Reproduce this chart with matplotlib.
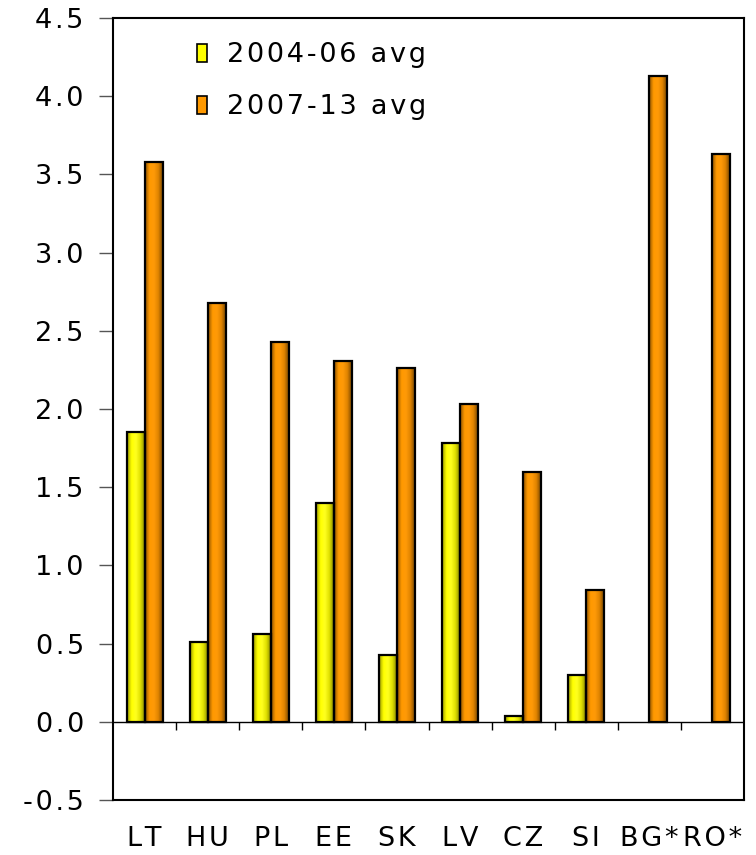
import numpy as np
import matplotlib
matplotlib.use("Agg")
import matplotlib.pyplot as plt
from matplotlib.colors import LinearSegmentedColormap
from matplotlib.patches import Patch

countries = ["LT", "HU", "PL", "EE", "SK", "LV", "CZ", "SI", "BG*", "RO*"]
avg_2004_06 = [1.85, 0.51, 0.56, 1.40, 0.43, 1.78, 0.04, 0.30, np.nan, np.nan]
avg_2007_13 = [3.58, 2.68, 2.43, 2.31, 2.26, 2.03, 1.60, 0.84, 4.13, 3.63]
series_labels = ["2004-06 avg", "2007-13 avg"]
y_ticks = [-0.5, 0.0, 0.5, 1.0, 1.5, 2.0, 2.5, 3.0, 3.5, 4.0, 4.5]

plt.rcParams["font.family"] = ["DejaVu Sans"]
FS = 19.5


def spaced(s):
    # slightly wider tracking using hair spaces between glyphs
    return "\u200a".join(s)


fig = plt.figure(figsize=(7.56, 8.55), dpi=100)
ax = fig.add_axes([113 / 756, 1 - 800 / 855, (744 - 113) / 756, (800 - 18) / 855])

n = len(countries)
x = np.arange(n)
bw = 0.285

yellow_cmap = LinearSegmentedColormap.from_list(
    "yel", ["#9a9a00", "#ffff00", "#ffff20", "#e0e000", "#8a8a00"])
orange_cmap = LinearSegmentedColormap.from_list(
    "org", ["#8c5200", "#ff9900", "#ff9a08", "#e08400", "#7a4800"])
grad = np.linspace(0, 1, 64).reshape(1, -1)


def shaded_bars(xpos, vals, cmap):
    bars = ax.bar(xpos, vals, width=bw, facecolor="none", edgecolor="black",
                  linewidth=1.6, zorder=3)
    for b, v in zip(bars, vals):
        if np.isnan(v):
            continue
        x0, w = b.get_x(), b.get_width()
        im = ax.imshow(grad, cmap=cmap, aspect="auto",
                       extent=[x0, x0 + w, 0, v], zorder=2,
                       interpolation="bilinear")
        im.set_clip_path(b)
    return bars


shaded_bars(x - bw / 2, avg_2004_06, yellow_cmap)
shaded_bars(x + bw / 2, avg_2007_13, orange_cmap)

ax.set_xlim(-0.5, n - 0.5)
ax.set_ylim(-0.5, 4.5)
ax.set_aspect("auto")

# zero line with category separators hanging below it
ax.axhline(0, color="black", linewidth=1.0, zorder=1)
ax.vlines(np.arange(n - 1) + 0.5, -0.05, 0, color="black", linewidth=1.0, zorder=1)

ax.set_yticks(y_ticks)
ax.set_yticklabels([spaced(f"{t:.1f}") for t in y_ticks], fontsize=FS)
ax.tick_params(axis="y", direction="out", length=10, width=1, color="#555555", pad=11)
ax.set_xticks(x)
ax.set_xticklabels([spaced(c) for c in countries], fontsize=FS)
ax.tick_params(axis="x", length=0, pad=19)

for s in ax.spines.values():
    s.set_linewidth(1.5)
    s.set_color("black")

handles = [Patch(facecolor="#ffff00", edgecolor="black", linewidth=1.2),
           Patch(facecolor="#ff9900", edgecolor="black", linewidth=1.2)]
ax.legend(handles, [spaced(s) for s in series_labels], loc="upper left",
          bbox_to_anchor=(0.095, 1.0), frameon=False, fontsize=FS,
          handlelength=0.35, handleheight=0.65, handletextpad=0.75,
          labelspacing=0.95)

fig.savefig("out.png", dpi=100)
